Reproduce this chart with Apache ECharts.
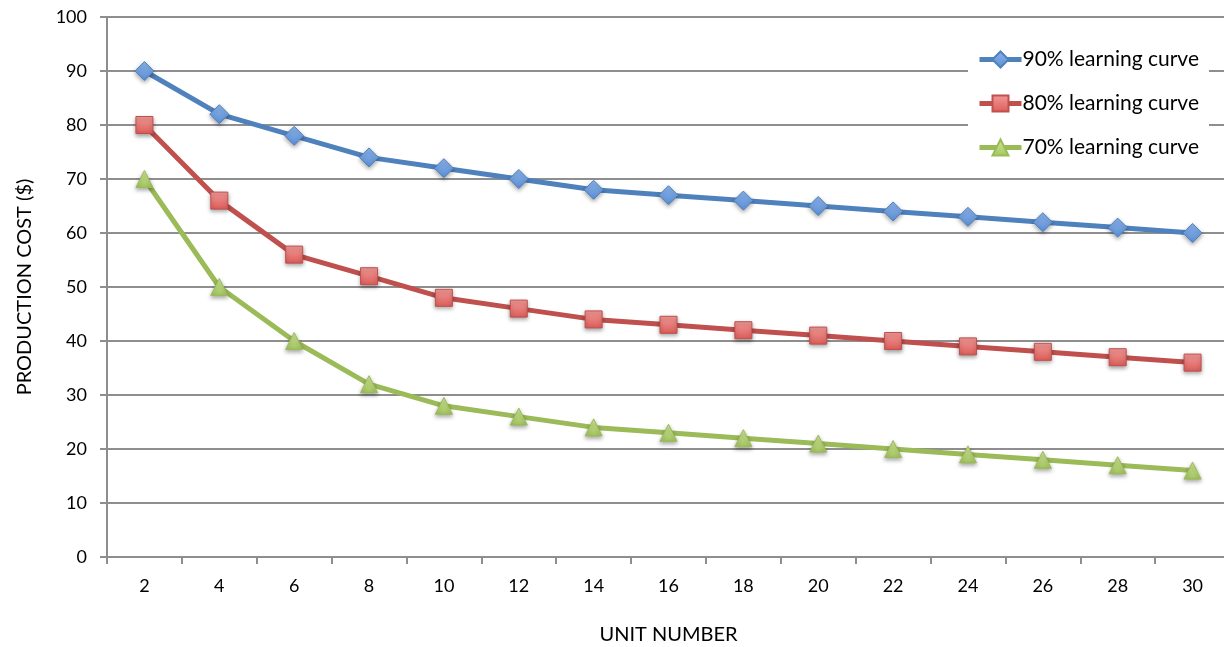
<!DOCTYPE html>
<html>
<head>
<meta charset="utf-8">
<script src="https://cdn.jsdelivr.net/npm/echarts@6/dist/echarts.min.js"></script>
<style>
  html, body { margin: 0; padding: 0; background: #fff; }
  #chart { width: 1224px; height: 647px; }
</style>
</head>
<body>
<div id="chart"></div>
<script>
// Unit numbers along the horizontal axis
const units = ['2', '4', '6', '8', '10', '12', '14', '16', '18', '20', '22', '24', '26', '28', '30'];

// Production cost per unit for each learning rate
const curve90 = [90, 82, 78, 74, 72, 70, 68, 67, 66, 65, 64, 63, 62, 61, 60];
const curve80 = [80, 66, 56, 52, 48, 46, 44, 43, 42, 41, 40, 39, 38, 37, 36];
const curve70 = [70, 50, 40, 32, 28, 26, 24, 23, 22, 21, 20, 19, 18, 17, 16];

const seriesNames = ['90% learning curve', '80% learning curve', '70% learning curve'];

const FONT = 'Lato, "Open Sans", sans-serif';

function grad(top, bottom) {
  return new echarts.graphic.LinearGradient(0, 0, 0, 1, [
    { offset: 0, color: top },
    { offset: 1, color: bottom }
  ]);
}

function makeSeries(name, data, lineColor, fillTop, fillBottom, symbol, size) {
  return {
    name: name,
    type: 'line',
    data: data,
    symbol: symbol,
    symbolSize: size,
    showAllSymbol: true,
    lineStyle: { color: lineColor, width: 5 },
    itemStyle: {
      color: grad(fillTop, fillBottom),
      borderColor: lineColor,
      borderWidth: 1,
      shadowBlur: 4,
      shadowOffsetY: 2,
      shadowColor: 'rgba(0,0,0,0.35)'
    },
    emphasis: { disabled: true },
    animation: false
  };
}

const chart = echarts.init(document.getElementById('chart'), null, { renderer: 'canvas' });

chart.setOption({
  backgroundColor: '#ffffff',
  grid: { left: 107, top: 17, width: 1123, height: 540, containLabel: false, outerBoundsMode: 'none' },
  legend: {
    data: seriesNames,
    orient: 'vertical',
    left: 968,
    top: 43,
    backgroundColor: '#ffffff',
    padding: [6, 10, 6, 9],
    itemWidth: 42,
    itemHeight: 20,
    itemGap: 23,
    lineStyle: { width: 5 },
    textStyle: { fontFamily: FONT, fontSize: 21, lineHeight: 20, color: '#000', padding: [0, 0, 0, -4] }
  },
  xAxis: {
    type: 'category',
    data: units,
    boundaryGap: true,
    name: 'UNIT NUMBER',
    nameLocation: 'middle',
    nameGap: 68,
    nameTextStyle: { fontFamily: FONT, fontSize: 20, color: '#000' },
    axisLine: { lineStyle: { color: '#8e8e8e', width: 2 } },
    axisTick: { show: true, length: 7, interval: 0, lineStyle: { color: '#8e8e8e', width: 2 } },
    axisLabel: { fontFamily: FONT, fontSize: 18, color: '#000', margin: 20, interval: 0 },
    splitLine: { show: false }
  },
  yAxis: {
    type: 'value',
    min: 0,
    max: 100,
    interval: 10,
    name: 'PRODUCTION COST ($)',
    nameLocation: 'middle',
    nameGap: 72,
    nameRotate: 90,
    nameTextStyle: { fontFamily: FONT, fontSize: 20, color: '#000' },
    axisLine: { show: true, lineStyle: { color: '#8e8e8e', width: 2 } },
    axisTick: { show: true, length: 7, lineStyle: { color: '#8e8e8e', width: 2 } },
    axisLabel: { fontFamily: FONT, fontSize: 18, color: '#000', margin: 20 },
    splitLine: { show: true, lineStyle: { color: '#8e8e8e', width: 2 } }
  },
  series: [
    makeSeries(seriesNames[0], curve90, '#4f81bd', '#8db4ea', '#5a8fd6', 'diamond', 19),
    makeSeries(seriesNames[1], curve80, '#c0504d', '#f29b99', '#dc5c58', 'rect', 17),
    makeSeries(seriesNames[2], curve70, '#9bbb59', '#d2eb99', '#a3c45e', 'triangle', 17)
  ]
});
</script>
</body>
</html>
